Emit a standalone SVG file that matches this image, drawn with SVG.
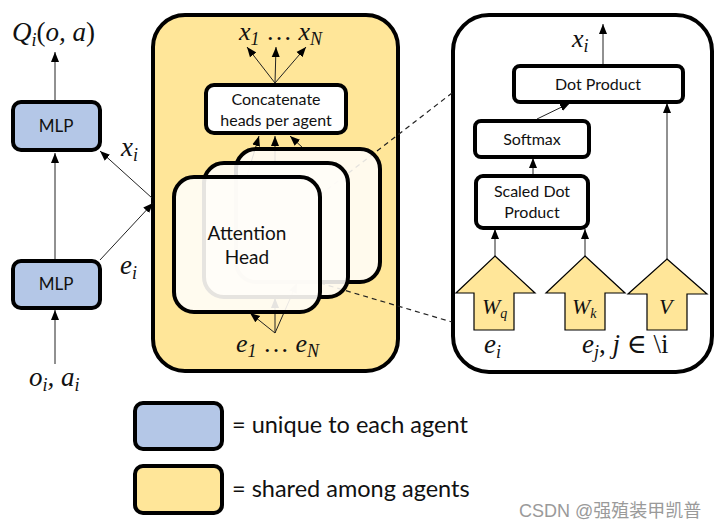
<svg xmlns="http://www.w3.org/2000/svg" width="725" height="529" viewBox="0 0 725 529">
<style>
.box{stroke:#000;stroke-width:4}
.blue{fill:#b4c7e7}
.yel{fill:#ffe699}
.wht{fill:#fff}
.lbl{font-family:Lato,"Liberation Sans",sans-serif;fill:#111;text-anchor:middle}
.math{font-family:"Liberation Serif","DejaVu Serif",serif;font-style:italic;fill:#111}
.conn{stroke:#222;stroke-width:1;fill:none}
.dash{stroke:#222;stroke-width:1.2;stroke-dasharray:5 4;fill:none}
.blk{fill:#ffe699;stroke:#000;stroke-width:1.2}
</style>
<defs>
<marker id="ah" markerUnits="userSpaceOnUse" markerWidth="10" markerHeight="10" viewBox="0 0 10 10" refX="10" refY="5" orient="auto">
<path d="M0,1 L10,5 L0,9 Z" fill="#000"/>
</marker>
</defs>
<rect width="725" height="529" fill="#fff"/>

<!-- shared attention block -->
<g id="attention-block">
<rect class="box yel" x="153" y="15" width="245" height="356" rx="32"/>
</g>

<!-- right panel -->
<g id="head-detail">
<rect class="box wht" x="453" y="15" width="259" height="357" rx="36"/>
</g>

<g id="connectors">
<line class="conn" x1="55" y1="100" x2="55" y2="52" marker-end="url(#ah)"/>
<line class="conn" x1="55" y1="259" x2="55" y2="153" marker-end="url(#ah)"/>
<line class="conn" x1="55" y1="364" x2="55" y2="310" marker-end="url(#ah)"/>
<line class="conn" x1="152" y1="198" x2="100" y2="151" marker-end="url(#ah)"/>
<line class="conn" x1="100" y1="260" x2="153" y2="203" marker-end="url(#ah)"/>
<line class="conn" x1="275" y1="83" x2="247" y2="47" marker-end="url(#ah)"/>
<line class="conn" x1="275" y1="83" x2="276" y2="47" marker-end="url(#ah)"/>
<line class="conn" x1="275" y1="83" x2="306" y2="47" marker-end="url(#ah)"/>
<line class="conn" x1="247" y1="176" x2="259" y2="136" marker-end="url(#ah)"/>
<line class="conn" x1="275" y1="163" x2="275" y2="136" marker-end="url(#ah)"/>
<line class="conn" x1="303" y1="148" x2="290" y2="136" marker-end="url(#ah)"/>
<line class="conn" x1="275" y1="333" x2="297" y2="283" marker-end="url(#ah)"/>
<line class="conn" x1="275" y1="333" x2="275" y2="298" marker-end="url(#ah)"/>
<line class="conn" x1="275" y1="333" x2="250" y2="313" marker-end="url(#ah)"/>
<line class="conn" x1="603" y1="64" x2="603" y2="24" marker-end="url(#ah)"/>
<line class="conn" x1="537" y1="119" x2="570" y2="103" marker-end="url(#ah)"/>
<line class="conn" x1="533" y1="175" x2="533" y2="158" marker-end="url(#ah)"/>
<line class="conn" x1="495" y1="256" x2="495" y2="229" marker-end="url(#ah)"/>
<line class="conn" x1="585" y1="256" x2="585" y2="229" marker-end="url(#ah)"/>
<line class="conn" x1="667" y1="259" x2="667" y2="103" marker-end="url(#ah)" stroke="#666"/>
<line class="dash" x1="320" y1="195" x2="452" y2="93"/>
<line class="dash" x1="320" y1="283" x2="452" y2="322"/>
</g>

<!-- left column -->
<g id="q-label">
<text class="math" x="12" y="41" font-size="27">Q<tspan font-size="18" dy="5">i</tspan><tspan dy="-5" font-style="normal">(</tspan>o, a<tspan font-style="normal">)</tspan></text>
</g>
<g id="mlp-top">
<rect class="box blue" x="13" y="102" width="87" height="48" rx="8"/>
<text class="lbl" x="56" y="132" font-size="17">MLP</text>
</g>
<g id="mlp-bottom">
<rect class="box blue" x="13" y="261" width="87" height="47" rx="8"/>
<text class="lbl" x="56" y="290" font-size="17">MLP</text>
</g>
<g id="labels-left">
<text class="math" x="121" y="156" font-size="27">x<tspan font-size="18" dy="5">i</tspan></text>
<text class="math" x="120" y="274" font-size="27">e<tspan font-size="18" dy="5">i</tspan></text>
<text class="math" x="29" y="386" font-size="27">o<tspan font-size="18" dy="5">i</tspan><tspan dy="-5">, a</tspan><tspan font-size="18" dy="5">i</tspan></text>
</g>

<!-- inside attention block -->
<g id="outputs-label">
<text class="math" x="239" y="40" font-size="26">x<tspan font-size="18" dy="5">1</tspan><tspan dy="-5" font-style="normal"> … </tspan>x<tspan font-size="18" dy="5">N</tspan></text>
</g>
<g id="concat">
<rect class="box wht" x="206" y="85" width="140" height="48" rx="8"/>
<text class="lbl" x="276" y="105" font-size="16">Concatenate</text>
<text class="lbl" x="276" y="126" font-size="16">heads per agent</text>
</g>
<g id="head-3">
<rect class="box" x="236" y="149" width="144" height="133" rx="20" fill="#fffdf8" fill-opacity="0.88"/>
</g>
<g id="head-2">
<rect class="box" x="204" y="163" width="144" height="134" rx="20" fill="#fffdf8" fill-opacity="0.88"/>
</g>
<g id="head-1">
<rect class="box" x="174" y="177" width="146" height="135" rx="20" fill="#fffdf8" fill-opacity="0.9"/>
<text class="lbl" x="247" y="240" font-size="19">Attention</text>
<text class="lbl" x="247" y="264" font-size="19">Head</text>
</g>
<g id="inputs-label">
<text class="math" x="236" y="352" font-size="26">e<tspan font-size="18" dy="5">1</tspan><tspan dy="-5" font-style="normal"> … </tspan>e<tspan font-size="18" dy="5">N</tspan></text>
</g>

<!-- right panel contents -->
<g id="xi-label">
<text class="math" x="572" y="47" font-size="26">x<tspan font-size="18" dy="5">i</tspan></text>
</g>
<g id="dot-product">
<rect class="box wht" x="514" y="66" width="169" height="36" rx="6"/>
<text class="lbl" x="598" y="90" font-size="16">Dot Product</text>
</g>
<g id="softmax">
<rect class="box wht" x="475" y="121" width="114" height="36" rx="6"/>
<text class="lbl" x="532" y="145" font-size="16">Softmax</text>
</g>
<g id="scaled-dot">
<rect class="box wht" x="476" y="176" width="112" height="52" rx="7"/>
<text class="lbl" x="532" y="197" font-size="16">Scaled Dot</text>
<text class="lbl" x="532" y="218" font-size="16">Product</text>
</g>
<g id="wq">
<path class="blk" d="M495,256 L535,293 L514,293 L514,330 L474,330 L474,293 L456,293 Z"/>
<text class="math" x="482" y="314" font-size="22">W<tspan font-size="14" dy="4">q</tspan></text>
</g>
<g id="wk">
<path class="blk" d="M585,256 L625,293 L605,293 L605,330 L565,330 L565,293 L546,293 Z"/>
<text class="math" x="572" y="314" font-size="22">W<tspan font-size="14" dy="4">k</tspan></text>
</g>
<g id="v">
<path class="blk" d="M667,259 L707,294 L687,294 L687,330 L647,330 L647,294 L628,294 Z"/>
<text class="math" x="659" y="314" font-size="22">V</text>
</g>
<g id="right-inputs">
<text class="math" x="484" y="353" font-size="27">e<tspan font-size="18" dy="5">i</tspan></text>
<text class="math" x="582" y="353" font-size="27">e<tspan font-size="18" dy="5">j</tspan><tspan dy="-5" font-style="normal">, </tspan>j<tspan font-style="normal"> ∈ \i</tspan></text>
</g>

<!-- legend -->
<g id="legend-unique">
<rect class="box blue" x="135" y="403" width="87" height="46" rx="8"/>
<text x="232" y="433" font-family="Lato,'Liberation Sans',sans-serif" font-size="23.5" fill="#111">= unique to each agent</text>
</g>
<g id="legend-shared">
<rect class="box yel" x="135" y="466" width="87" height="47" rx="8"/>
<text x="232" y="497" font-family="Lato,'Liberation Sans',sans-serif" font-size="23.5" fill="#111">= shared among agents</text>
</g>
<text x="519" y="517" font-family="'Liberation Sans','Noto Sans CJK SC',sans-serif" font-size="18" fill="#9a9a9a">CSDN @强殖装甲凯普</text>
</svg>
